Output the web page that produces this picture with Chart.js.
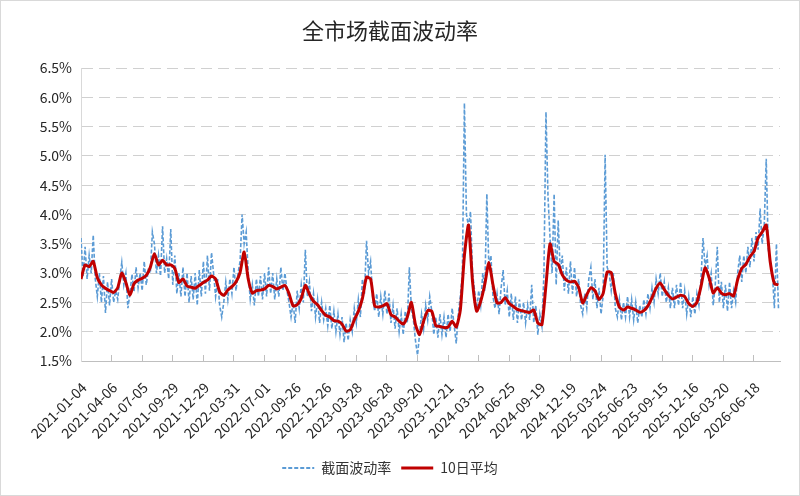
<!DOCTYPE html>
<html>
<head>
<meta charset="utf-8">
<script src="https://cdn.jsdelivr.net/npm/chart.js@4.4.1/dist/chart.umd.min.js"></script>
<style>
html,body{margin:0;padding:0;background:#fff;}
#wrap{width:800px;height:496px;position:relative;}
</style>
</head>
<body>
<div id="wrap"><canvas id="c" width="800" height="496"></canvas></div>
<script>
// ---- data ----
const chartTitle = '全市场截面波动率';
const seriesNames = ['截面波动率', '10日平均'];
const tickLabels = ['2021-01-04','2021-04-06','2021-07-05','2021-09-29','2021-12-29','2022-03-31','2022-07-01','2022-09-26','2022-12-26','2023-03-28','2023-06-28','2023-09-20','2023-12-21','2024-03-25','2024-06-25','2024-09-19','2024-12-19','2025-03-24','2025-06-23','2025-09-15','2025-12-16','2026-03-20','2026-06-18'];
const tickEvery = 60;      // trading days between labelled dates
const lastDay = 1371;      // index of last trading day
const yTicks = [1.5, 6.5, 0.5]; // min, max, step (%)

// cross-sectional volatility, sampled every 4 trading days (hundredths of %)
const volStep = 4;
const volValues = [
360,295,345,290,330,300,365,290,260,300,
250,295,232,285,245,290,250,270,255,290,
318,280,300,240,265,298,268,310,275,300,
270,320,280,305,300,370,350,300,330,295,
380,300,325,290,375,280,330,265,300,260,
310,260,300,250,295,255,300,245,305,260,
320,265,330,270,335,300,260,290,245,225,
250,285,255,290,265,310,270,300,320,400,
350,370,300,255,280,245,290,260,295,255,
300,260,310,265,300,255,290,260,310,270,
300,270,250,225,250,215,270,240,280,250,
340,260,285,235,265,225,255,215,250,220,
240,210,245,205,235,200,230,195,225,182,
215,185,220,200,240,215,255,225,290,265,
355,300,320,260,235,265,225,260,230,270,
230,265,215,245,205,240,200,230,195,235,
215,310,240,220,185,160,195,230,205,245,
220,260,235,195,225,190,230,195,225,190,
230,200,240,210,180,230,260,300,590,400,
380,405,300,270,235,270,245,300,270,435,
310,330,260,240,265,230,275,305,245,270,
225,265,220,260,215,255,220,250,215,245,
220,280,215,245,195,230,210,300,575,430,
360,300,435,280,390,300,330,270,310,265,
320,265,310,260,290,245,230,265,240,290,
310,255,290,240,275,230,260,502,310,300,
270,300,240,225,255,220,250,225,260,225,
255,220,250,215,245,225,255,230,265,240,
275,250,290,265,300,260,285,250,275,240,
275,240,280,245,285,240,270,230,260,225,
260,230,265,245,290,360,310,330,280,300,
245,280,345,250,285,240,280,235,285,240,
270,250,300,330,285,330,300,345,310,360,
320,370,340,410,350,380,495,340,320,300,
240,350,240
];

// 10-day average, sampled every 8 trading days (hundredths of %)
const maStep = 8;
const maValues = [
290,314,311,320,292,280,274,270,267,275,
300,284,262,282,288,291,296,310,333,314,
322,314,314,308,284,290,278,276,274,279,
284,288,295,290,268,262,271,277,285,301,
336,290,266,270,271,273,279,277,273,276,
279,265,244,246,257,279,264,252,246,236,
228,225,219,218,213,201,203,220,235,257,
293,290,244,242,244,248,229,225,218,213,
225,250,212,195,218,236,235,210,209,207,
208,218,208,237,330,382,285,235,252,281,
318,280,249,250,258,248,243,238,236,234,
233,237,215,212,280,350,320,315,297,288,
285,286,276,249,263,275,270,255,265,302,
301,265,242,237,242,240,237,233,236,244,
258,274,283,272,262,256,259,262,260,248,
243,250,277,309,292,266,275,266,263,265,
261,289,308,315,328,337,360,370,382,318,
282,280
];

// ---- chart ----
const FONT = '"Noto Sans CJK SC", "Noto Sans", sans-serif';
const volData = volValues.map((v, k) => ({x: k * volStep, y: v / 100}));
const maData = maValues.map((v, k) => ({x: k * maStep, y: v / 100}));

const framePlugin = {
  id: 'frame',
  beforeDraw(chart) {
    const c = chart.ctx;
    c.save();
    c.fillStyle = '#ffffff';
    c.fillRect(0, 0, chart.width, chart.height);
    c.strokeStyle = '#D9D9D9';
    c.lineWidth = 1;
    c.strokeRect(0.5, 0.5, chart.width - 1, chart.height - 1);
    c.restore();
  }
};

new Chart(document.getElementById('c'), {
  type: 'line',
  data: {
    datasets: [
      {
        label: seriesNames[0],
        data: volData,
        borderColor: '#5B9BD5',
        borderWidth: 1.6,
        borderDash: [4, 2],
        pointRadius: 0,
        tension: 0,
        order: 2
      },
      {
        label: seriesNames[1],
        data: maData,
        borderColor: '#C00000',
        borderWidth: 3,
        pointRadius: 0,
        tension: 0.2,
        order: 1
      }
    ]
  },
  options: {
    responsive: false,
    animation: false,
    events: [],
    layout: {padding: {left: 0, right: 20, top: 0, bottom: 11}},
    plugins: {
      title: {
        display: true,
        text: chartTitle,
        color: '#262626',
        font: {family: FONT, size: 22, weight: 'normal', lineHeight: 1.2},
        padding: {top: 17, bottom: 24.6}
      },
      legend: {
        display: true,
        position: 'bottom',
        labels: {
          usePointStyle: true,
          pointStyleWidth: 32,
          padding: 10,
          color: '#333333',
          font: {family: FONT, size: 14},
          generateLabels(chart) {
            return chart.data.datasets.map((ds, i) => ({
              text: ds.label,
              strokeStyle: ds.borderColor,
              fillStyle: ds.borderColor,
              lineWidth: i === 0 ? 2 : 3,
              lineDash: ds.borderDash || [],
              pointStyle: 'line',
              hidden: false,
              datasetIndex: i,
              fontColor: '#333333'
            }));
          }
        }
      },
      tooltip: {enabled: false}
    },
    scales: {
      x: {
        type: 'linear',
        min: 0,
        max: lastDay,
        afterFit(s) { s.height = 90; },
        ticks: {
          stepSize: tickEvery,
          includeBounds: false,
          autoSkip: false,
          maxRotation: 45,
          minRotation: 45,
          padding: 24,
          labelOffset: 3,
          color: '#262626',
          font: {family: FONT, size: 14},
          callback: (v) => {
            const k = Math.round(v / tickEvery);
            return (k * tickEvery === v && tickLabels[k]) ? tickLabels[k] : '';
          }
        },
        grid: {
          display: true,
          drawOnChartArea: false,
          drawTicks: true,
          tickLength: -6,
          color: '#BFBFBF',
          lineWidth: 1
        },
        border: {display: true, color: '#BFBFBF', width: 1}
      },
      y: {
        type: 'linear',
        min: yTicks[0],
        max: yTicks[1],
        afterFit(s) { s.width = 81; },
        ticks: {
          stepSize: yTicks[2],
          padding: 9,
          color: '#262626',
          font: {family: FONT, size: 14},
          callback: (v) => v.toFixed(1) + '%'
        },
        grid: {
          display: true,
          drawTicks: false,
          color: '#D0D0D0',
          lineWidth: 1
        },
        border: {display: true, color: '#D9D9D9', width: 1, dash: [11, 6]}
      }
    }
  },
  plugins: [framePlugin]
});
</script>
</body>
</html>
